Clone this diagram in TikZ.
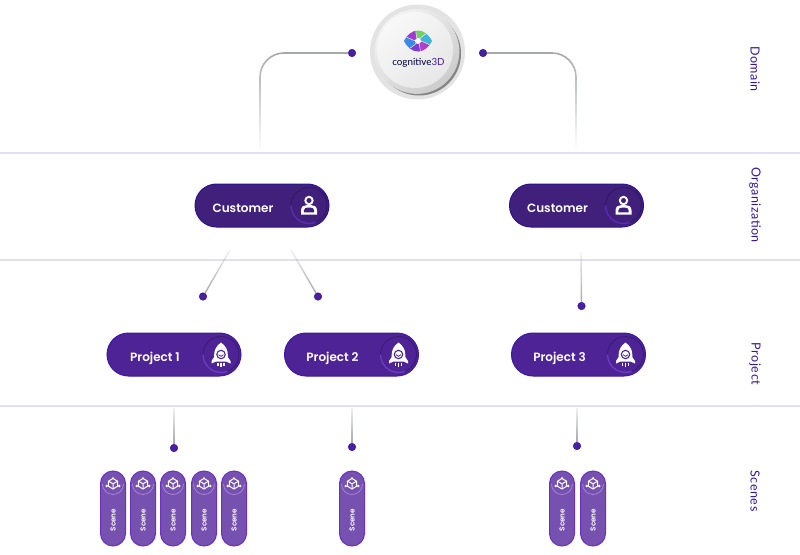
\documentclass[tikz,border=0pt]{standalone}
\usepackage{fontspec}
\setmainfont{Poppins}
\newfontfamily\pillfont{Poppins SemiBold}
\newfontfamily\logofont{Lato}
\newfontfamily\sidefont[LetterSpace=4.3]{Lato}
\usetikzlibrary{fadings,calc,shapes.misc}
\definecolor{custfill}{HTML}{41207C}
\definecolor{custedge}{HTML}{2C1290}
\definecolor{custarc}{HTML}{5A2CB4}
\definecolor{projfill}{HTML}{4E2396}
\definecolor{projedge}{HTML}{3A18A8}
\definecolor{projarc}{HTML}{6C3CC0}
\definecolor{scenefill}{HTML}{7651B0}
\definecolor{sceneedge}{HTML}{6A2FC4}
\definecolor{scenearc}{HTML}{A98AD8}
\definecolor{dotfill}{HTML}{4A1FA0}
\definecolor{dotedge}{HTML}{3312A0}
\definecolor{wire}{HTML}{A4A8AC}
\definecolor{band}{HTML}{E2DFEE}
\definecolor{sidetext}{HTML}{3414A4}
\definecolor{p1}{HTML}{A23AD4}\definecolor{p2}{HTML}{73D162}\definecolor{p3}{HTML}{3CB4DC}
\definecolor{p4}{HTML}{7A3ED0}\definecolor{p5}{HTML}{B040C8}\definecolor{p6}{HTML}{3C8AE8}
\tikzfading[name=fadedown, top color=transparent!0, middle color=transparent!15, bottom color=transparent!100]
\tikzfading[name=fadeup, top color=transparent!85, middle color=transparent!15, bottom color=transparent!0]
\tikzset{
  dotnode/.style={circle,fill=dotfill,draw=dotedge,line width=.5pt,minimum size=7.5pt,inner sep=0pt},
  wiredown/.style={draw=wire,line width=1.6pt,path fading=fadedown},
  wireup/.style={draw=wire,line width=1.4pt,path fading=fadeup},
  bandline/.style={draw=band,line width=1.6pt},
  pillbase/.style={rectangle,rounded corners=21.5pt,minimum width=134pt,minimum height=43pt,inner sep=0pt,line width=1pt},
  custpill/.style={pillbase,fill=custfill,draw=custedge},
  projpill/.style={pillbase,fill=projfill,draw=projedge},
  scenepill/.style={rectangle,rounded corners=12.5pt,minimum width=25pt,minimum height=75pt,inner sep=0pt,fill=scenefill,draw=sceneedge,line width=1pt},
  pilltext/.style={text=white,font=\pillfont\fontsize{12}{14}\selectfont,inner sep=0pt,anchor=base},
  scenetext/.style={text=white,font=\pillfont\fontsize{7.2}{8}\selectfont,rotate=90,inner sep=0pt},
  sidelabel/.style={text=sidetext,font=\sidefont\fontsize{12.5}{14}\selectfont,rotate=-90,inner sep=0pt},
}
\newcommand{\personicon}{%
  \draw[white,line width=1.9pt] (0,-5) circle (3.7pt);
  \fill[white] (-8,9) -- (8,9) -- (8,5) .. controls (8,1) and (5,-.5) .. (2,-.5) -- (-2,-.5) .. controls (-5,-.5) and (-8,1) .. (-8,5) -- cycle;
  \fill[custfill] (-5.2,6.8) -- (5.2,6.8) -- (5.2,5) .. controls (5.2,3) and (3,2) .. (1,2) -- (-1,2) .. controls (-3,2) and (-5.2,3) .. (-5.2,5) -- cycle;
}
\newcommand{\rocketicon}{%
  \fill[white] (0,-12) .. controls (5,-8.5) and (6.8,-4) .. (6.8,0) -- (6.8,2.5) -- (9.5,6.5) -- (9.5,9) -- (5,7) -- (-5,7) -- (-9.5,9) -- (-9.5,6.5) -- (-6.8,2.5) -- (-6.8,0) .. controls (-6.8,-4) and (-5,-8.5) .. (0,-12) -- cycle;
  \draw[projfill,line width=1.1pt,fill=white] (0,0) circle (4.2pt);
  \draw[projfill,line width=.8pt] (-2.4,.2) .. controls (-1,2.4) and (1,2.4) .. (2.4,.2);
  \draw[white,line width=1.1pt] (-3,8) -- (-3,11) (0,8) -- (0,12) (3,8) -- (3,11);
}
\newcommand{\sceneicon}{%
  \draw[white,line width=1pt,line join=round] (0,-5.5) -- (4.6,-2.8) -- (4.6,2.2) -- (0,5) -- (-4.6,2.2) -- (-4.6,-2.8) -- cycle;
  \draw[white,line width=1pt] (-4.6,-2.8) -- (0,-.2) -- (4.6,-2.8) (0,-.2) -- (0,5);
  \fill[white] (-6.2,2) circle (1.4pt) (6.2,2) circle (1.4pt) (0,-5.8) circle (1.2pt);
}
% name, x, y, label, style, arc colour, icon
\newcommand{\pillnode}[7]{%
  \node[#5] (#1) at (#2,#3) {};
  \node[pilltext] (#1t) at ($(#1.center)+(-19,6.5)$) {#4};
  \begin{scope}[shift={($(#1.center)+(47,0)$)}]
    \draw[black!25!#5fillc,line width=.8pt] (0,0) circle (18pt);
    \draw[#6,line width=1.4pt] (-18,0) arc (180:290:18pt);
    #7
  \end{scope}
}
\newcommand{\scenenode}[2]{%
  \node[scenepill] (#1) at (#2,508.5) {};
  \node[scenetext] (#1t) at (#2,520) {Scene};
  \begin{scope}[shift={(#2,484)}]
    \draw[scenearc,line width=.7pt] (10.5,0) arc (0:-180:10.5pt);
    \sceneicon
  \end{scope}
}
\colorlet{custpillfillc}{custfill}
\colorlet{projpillfillc}{projfill}
\begin{document}
\begin{tikzpicture}[x=1pt,y=-1pt]
\useasboundingbox (0,0) rectangle (800,554);
\fill[white] (0,0) rectangle (800,554);
% band lines
\coordinate (b1l) at (0,153); \coordinate (b1r) at (800,153);
\coordinate (b2l) at (0,260); \coordinate (b2r) at (800,260);
\coordinate (b3l) at (0,406); \coordinate (b3r) at (800,406);
\draw[bandline] (b1l) -- (b1r);
\draw[bandline] (b2l) -- (b2r);
\draw[bandline] (b3l) -- (b3r);
% logo disc
\node[circle,fill=black!11,minimum size=95pt,inner sep=0pt] (logo) at (417.5,52) {};
\fill[black!48] (419,53.5) circle (42pt);
\shade[left color=black!5,right color=black!20,shading angle=40] (417,51.5) circle (42.4pt);
\fill[white,opacity=.5] (415,50) circle (38pt);
\begin{scope}[shift={(418,41)}]
  \clip (-14,0) .. controls (-7,-14) and (7,-14) .. (14,0) .. controls (7,14) and (-7,14) .. (-14,0) -- cycle;
  \foreach \a/\c in {-30/p3,30/p2,90/p1,150/p6,210/p4,270/p5}{
    \fill[\c,draw=white,line width=.3pt,rotate=\a] (0,0) .. controls (6,-3) and (12,-3) .. (22,0) -- (11,-19.05) .. controls (3.4,-11.89) and (.4,-6.7) .. (0,0) -- cycle;
  }
  \fill[white] (0,0) circle (3pt);
\end{scope}
\node[inner sep=0pt,font=\logofont\fontsize{9.8}{12}\selectfont,text=black!70!blue!80!black] (logotext) at (418.5,62.5) {cognitive\textcolor{dotfill}{3D}};
% dots
\node[dotnode] (dl) at (352,53) {};
\node[dotnode] (dr) at (483,53) {};
\node[dotnode] (d1) at (203,296.5) {};
\node[dotnode] (d2) at (318,296.5) {};
\node[dotnode] (d3) at (581.5,306) {};
\node[dotnode] (d4) at (174,448) {};
\node[dotnode] (d5) at (352,447) {};
\node[dotnode] (d6) at (577,446) {};
% free ends
\coordinate (el) at (260,150);
\coordinate (er) at (576,148);
\coordinate (e1) at (230,250);
\coordinate (e2) at (291,250);
\coordinate (e3) at (581,252);
\coordinate (e4) at (174,408);
\coordinate (e5) at (352,408);
\coordinate (e6) at (577,408);
% connectors (the extra move gives vertical paths a width for the fading)
\draw[wiredown,rounded corners=24pt] (dl) -| (el);
\draw[wiredown,rounded corners=24pt] (dr) -| (er);
\draw[wireup] (e1) -- (d1);
\draw[wireup] (e2) -- (d2);
\draw[wireup] ($(e3)+(2,0)$) (e3) -- (d3);
\draw[wireup] ($(e4)+(2,0)$) (e4) -- (d4);
\draw[wireup] ($(e5)+(2,0)$) (e5) -- (d5);
\draw[wireup] ($(e6)+(2,0)$) (e6) -- (d6);
% customers
\pillnode{c1}{262}{205.5}{Customer}{custpill}{custarc}{\personicon}
\pillnode{c2}{576.5}{205.5}{Customer}{custpill}{custarc}{\personicon}
% projects
\pillnode{p1}{174}{354.5}{Project 1}{projpill}{projarc}{\rocketicon}
\pillnode{p2}{351.5}{354.5}{Project 2}{projpill}{projarc}{\rocketicon}
\pillnode{p3}{578.5}{354.5}{Project 3}{projpill}{projarc}{\rocketicon}
% scenes
\scenenode{s1}{113}
\scenenode{s2}{143}
\scenenode{s3}{173}
\scenenode{s4}{204}
\scenenode{s5}{234}
\scenenode{s6}{352}
\scenenode{s7}{562}
\scenenode{s8}{593}
% side labels
\node[sidelabel] (lab1) at (755,69) {Domain};
\node[sidelabel] (lab2) at (755,205) {Organization};
\node[sidelabel] (lab3) at (755,364) {Project};
\node[sidelabel] (lab4) at (755,491) {Scenes};
\end{tikzpicture}
\end{document}
